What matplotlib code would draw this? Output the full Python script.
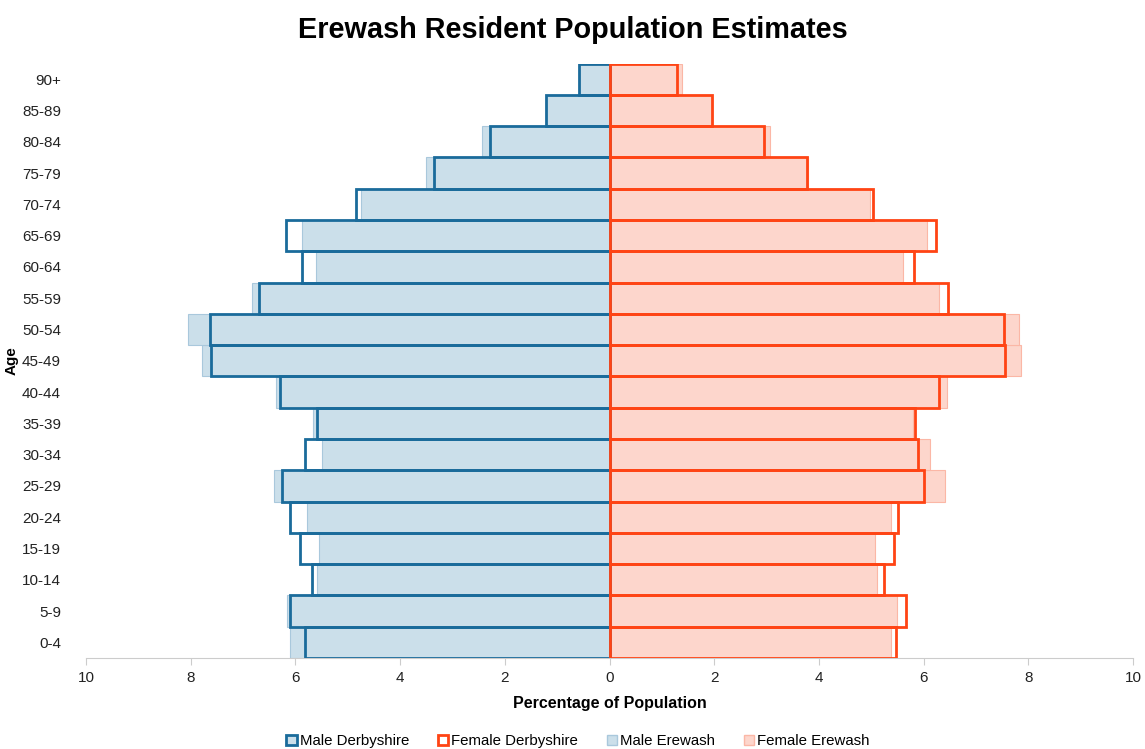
import matplotlib.pyplot as plt
from matplotlib.patches import Patch
import numpy as np

plt.rcParams['font.family'] = ['Liberation Sans', 'DejaVu Sans']

age_groups = ['0-4', '5-9', '10-14', '15-19', '20-24', '25-29', '30-34', '35-39',
              '40-44', '45-49', '50-54', '55-59', '60-64', '65-69', '70-74',
              '75-79', '80-84', '85-89', '90+']

male_derbyshire = [5.82, 6.10, 5.68, 5.92, 6.10, 6.26, 5.82, 5.58, 6.30, 7.61,
                   7.64, 6.70, 5.87, 6.18, 4.84, 3.36, 2.28, 1.22, 0.58]
female_derbyshire = [5.47, 5.66, 5.25, 5.44, 5.52, 6.01, 5.90, 5.83, 6.29, 7.56,
                     7.54, 6.47, 5.81, 6.24, 5.04, 3.77, 2.95, 1.96, 1.28]
male_erewash = [6.10, 6.17, 5.58, 5.54, 5.77, 6.41, 5.50, 5.67, 6.38, 7.78,
                8.06, 6.83, 5.61, 5.88, 4.74, 3.50, 2.43, 1.22, 0.58]
female_erewash = [5.37, 5.50, 5.11, 5.07, 5.37, 6.41, 6.13, 5.80, 6.44, 7.86,
                  7.82, 6.29, 5.61, 6.06, 4.97, 3.79, 3.07, 1.96, 1.38]

male_dark = '#1a6b9b'
female_dark = '#ff4414'
male_light = '#cbdfea'
female_light = '#fdd6cc'

fig = plt.figure(figsize=(11.45, 7.49), dpi=100)
ax = fig.add_axes([86 / 1145, 1 - 658 / 749, 1047 / 1145, 594.5 / 749])

y = np.arange(len(age_groups))

# Erewash - light filled bars
ax.barh(y, -np.array(male_erewash), height=1.0, color=male_light,
        edgecolor='#a9c8dc', linewidth=0.8, zorder=2)
ax.barh(y, female_erewash, height=1.0, color=female_light,
        edgecolor='#fbb7a6', linewidth=0.8, zorder=2)

# Derbyshire - outlined bars
ax.barh(y, -np.array(male_derbyshire), height=1.0, facecolor='none',
        edgecolor=male_dark, linewidth=2, zorder=3)
ax.barh(y, female_derbyshire, height=1.0, facecolor='none',
        edgecolor=female_dark, linewidth=2, zorder=3)

ax.set_xlim(-10, 10)
ax.set_ylim(-0.5, len(age_groups) - 0.5)
ax.set_xticks(np.arange(-10, 11, 2))
ax.set_xticklabels([str(abs(v)) for v in range(-10, 11, 2)], fontsize=11, color='#222222')
ax.set_yticks(y)
ax.set_yticklabels(age_groups, fontsize=11, color='#222222')
ax.tick_params(axis='y', length=0, pad=18)
ax.tick_params(axis='x', length=5, color='#cccccc', pad=4)

for side in ['top', 'right', 'left']:
    ax.spines[side].set_visible(False)
ax.spines['bottom'].set_color('#cccccc')

ax.set_xlabel('Percentage of Population', fontsize=11.5, fontweight='bold', labelpad=8)
ax.set_ylabel('Age', fontsize=11, fontweight='bold')
ax.yaxis.set_label_coords(-67 / 1047, 0.5)

fig.suptitle('Erewash Resident Population Estimates', fontsize=20.8, fontweight='bold',
             x=573 / 1145, y=1 - 30 / 749, va='center')

handles = [
    Patch(facecolor=male_light, edgecolor=male_dark, linewidth=2, label='Male Derbyshire'),
    Patch(facecolor='white', edgecolor=female_dark, linewidth=2, label='Female Derbyshire'),
    Patch(facecolor=male_light, edgecolor='#a9c8dc', linewidth=1, label='Male Erewash'),
    Patch(facecolor=female_light, edgecolor='#fbb7a6', linewidth=1, label='Female Erewash'),
]
fig.legend(handles=handles, loc='center', bbox_to_anchor=(578 / 1145, 1 - 741 / 749),
           ncol=4, frameon=False, fontsize=10.8, handlelength=0.7, handleheight=0.7,
           handletextpad=0.2, columnspacing=1.9)

plt.savefig('out.png', dpi=100)
plt.close()
